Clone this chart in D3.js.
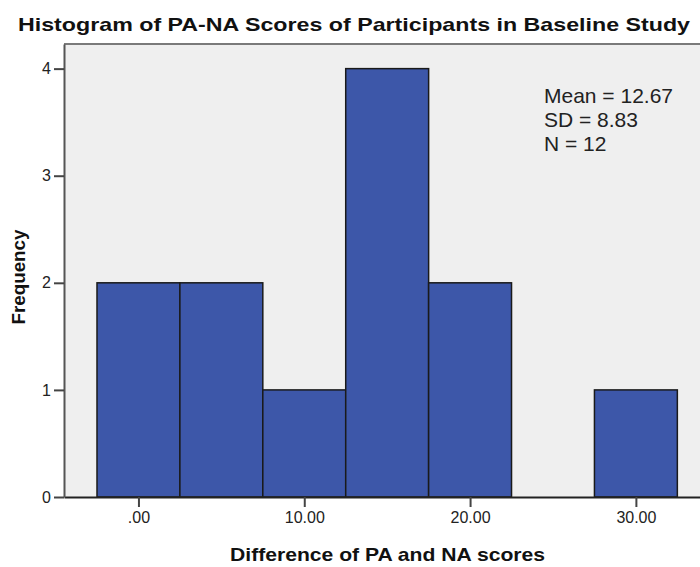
<!DOCTYPE html>
<html>
<head>
<meta charset="utf-8">
<script src="https://cdn.jsdelivr.net/npm/d3@7"></script>
<style>
  body { margin: 0; background: #fff; }
  text { font-family: "Liberation Sans", Arial, sans-serif; }
</style>
</head>
<body>
<div id="chart"></div>
<script>
// histogram bins (bin centers, width 5) and frequencies
const binCenters = [0, 5, 10, 15, 20, 25, 30];
const counts = [2, 2, 1, 4, 2, 0, 1];
const binWidth = 5;
const xTicks = [0, 10, 20, 30];
const yTicks = [0, 1, 2, 3, 4];
const statLines = ["Mean = 12.67", "SD = 8.83", "N = 12"];

const W = 700, H = 567;
const plot = {left: 64, top: 44, right: 712, bottom: 497};

const svg = d3.select("#chart").append("svg")
    .attr("width", W)
    .attr("height", H);

// scales - fitted so 0 sits at 138.5px and 10 units span ~166px
let x = d3.scaleLinear().domain([-4.49, 34.59]).range([plot.left, plot.right]);
let y = d3.scaleLinear().domain([0, 4.23]).range([plot.bottom, plot.top]);

// plot background
svg.append("rect")
    .attr("x", plot.left)
    .attr("y", plot.top)
    .attr("width", plot.right - plot.left)
    .attr("height", plot.bottom - plot.top)
    .style("fill", "#efefef");

// top frame line
svg.append("line")
    .attr("x1", plot.left).attr("x2", plot.right)
    .attr("y1", plot.top).attr("y2", plot.top)
    .style("stroke", "#7a7a7a")
    .style("stroke-width", 2);

// bars
svg.selectAll(".bar")
    .data(binCenters.map((c, i) => ({c: c, n: counts[i]})).filter(d => d.n > 0))
    .enter()
    .append("rect")
    .attr("class", "bar")
    .attr("x", d => x(d.c - binWidth / 2))
    .attr("y", d => y(d.n))
    .attr("width", d => x(d.c + binWidth / 2) - x(d.c - binWidth / 2))
    .attr("height", d => y(0) - y(d.n))
    .style("fill", "#3d57a9")
    .style("stroke", "#1a1a1a")
    .style("stroke-width", 1.5);

// format like SPSS: .00, 10.00 ...
const fmt = v => d3.format(".2f")(v).replace(/^0\./, ".");

// x axis
let xAxis = svg.append("g")
    .attr("transform", "translate(0," + plot.bottom + ")")
    .call(d3.axisBottom(x).tickValues(xTicks).tickFormat(fmt).tickSize(10).tickPadding(5).tickSizeOuter(0));
xAxis.select(".domain").style("stroke", "#222").style("stroke-width", 2);
xAxis.selectAll(".tick line").style("stroke", "#444").style("stroke-width", 2);
xAxis.selectAll(".tick text")
    .style("font-size", "16px")
    .style("fill", "#222")
    .style("font-family", "'Liberation Sans', Arial, sans-serif");

// y axis
let yAxis = svg.append("g")
    .attr("transform", "translate(" + plot.left + ",0)")
    .call(d3.axisLeft(y).tickValues(yTicks).tickFormat(d3.format("d")).tickSize(10).tickPadding(3).tickSizeOuter(0));
yAxis.select(".domain").style("stroke", "#555").style("stroke-width", 2);
yAxis.selectAll(".tick line").style("stroke", "#444").style("stroke-width", 2);
yAxis.selectAll(".tick text")
    .style("font-size", "16px")
    .style("fill", "#222")
    .style("font-family", "'Liberation Sans', Arial, sans-serif");

// title
svg.append("text")
    .attr("x", 354)
    .attr("y", 31)
    .attr("text-anchor", "middle")
    .attr("textLength", 672)
    .attr("lengthAdjust", "spacingAndGlyphs")
    .style("font-size", "19px")
    .style("font-weight", "bold")
    .style("fill", "#111")
    .text("Histogram of PA-NA Scores of Participants in Baseline Study");

// x label
svg.append("text")
    .attr("x", 387.5)
    .attr("y", 561)
    .attr("text-anchor", "middle")
    .attr("textLength", 315)
    .attr("lengthAdjust", "spacingAndGlyphs")
    .style("font-size", "19px")
    .style("font-weight", "bold")
    .style("fill", "#111")
    .text("Difference of PA and NA scores");

// y label
svg.append("text")
    .attr("transform", "translate(25,277) rotate(-90)")
    .attr("text-anchor", "middle")
    .attr("textLength", 95)
    .attr("lengthAdjust", "spacingAndGlyphs")
    .style("font-size", "19px")
    .style("font-weight", "bold")
    .style("fill", "#111")
    .text("Frequency");

// stats box
svg.append("g")
    .selectAll("text")
    .data(statLines)
    .enter()
    .append("text")
    .attr("x", 544)
    .attr("y", (d, i) => 103 + i * 24)
    .style("font-size", "21px")
    .style("fill", "#222")
    .text(d => d);
</script>
</body>
</html>
